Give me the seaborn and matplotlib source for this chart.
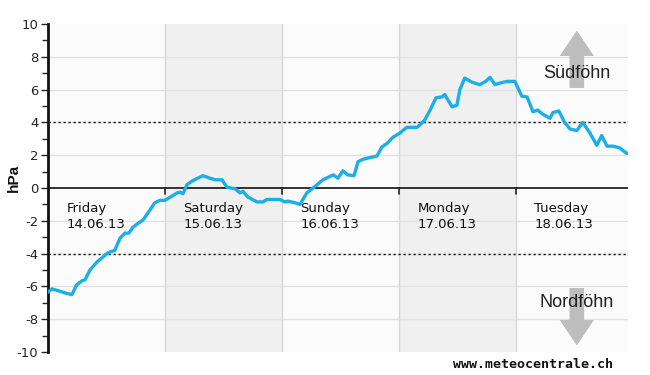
import matplotlib
matplotlib.use("Agg")
import matplotlib.pyplot as plt
import seaborn as sns
import pandas as pd
import numpy as np
from matplotlib.patches import FancyArrow

hours = [0, 0.8, 2.5, 3.5, 4.9, 5.9, 7.0, 7.6, 8.6, 10.1, 11.3, 12.3, 13.7, 14.8, 15.8, 16.6,
         17.4, 18.5, 19.5, 20.9, 21.9, 23.0, 24.0, 25.4, 26.5, 27.1, 27.7, 28.5, 29.7, 31.8,
         33.2, 34.3, 35.7, 36.7, 38.4, 39.4, 40.0, 41.0, 42.9, 44.1, 44.9, 47.6, 48.6, 49.2,
         50.7, 51.7, 53.1, 54.4, 56.4, 58.5, 59.5, 60.5, 61.5, 62.8, 63.6, 64.6, 66.0, 67.5,
         68.5, 69.7, 70.8, 72.2, 73.6, 75.7, 76.3, 77.3, 78.4, 79.6, 80.8, 81.4, 82.9, 83.9,
         84.5, 85.5, 87.0, 88.6, 89.8, 90.7, 91.7, 92.7, 94.2, 95.8, 97.2, 98.3, 99.5, 100.5,
         101.5, 103.0, 103.6, 104.8, 106.0, 107.1, 108.5, 109.7, 111.2, 112.6, 113.6, 114.7,
         115.9, 117.3, 117.9, 118.8]
hpa = [-6.35, -6.15, -6.3, -6.4, -6.5, -5.9, -5.65, -5.6, -5.0, -4.5, -4.2, -3.95, -3.8, -3.05,
       -2.75, -2.75, -2.4, -2.15, -1.95, -1.35, -0.9, -0.75, -0.75, -0.5, -0.3, -0.25, -0.35,
       0.2, 0.45, 0.75, 0.6, 0.5, 0.5, 0.05, -0.05, -0.3, -0.2, -0.55, -0.85, -0.85, -0.7,
       -0.7, -0.85, -0.8, -0.9, -1.0, -0.3, 0.0, 0.5, 0.8, 0.6, 1.05, 0.8, 0.75, 1.6, 1.75,
       1.85, 1.95, 2.5, 2.75, 3.1, 3.35, 3.7, 3.7, 3.85, 4.15, 4.75, 5.5, 5.55, 5.7, 4.95,
       5.05, 6.0, 6.7, 6.45, 6.3, 6.5, 6.75, 6.3, 6.4, 6.5, 6.5, 5.6, 5.55, 4.65, 4.75, 4.5,
       4.25, 4.6, 4.7, 4.0, 3.6, 3.5, 4.0, 3.35, 2.6, 3.2, 2.55, 2.55, 2.45, 2.3, 2.1]
day_names = ["Friday", "Saturday", "Sunday", "Monday", "Tuesday"]
day_dates = ["14.06.13", "15.06.13", "16.06.13", "17.06.13", "18.06.13"]
y_ticks = [-10, -8, -6, -4, -2, 0, 2, 4, 6, 8, 10]

df = pd.DataFrame({"h": hours, "v": hpa})

sns.set_style("white")
plt.rcParams["font.family"] = ["DejaVu Sans"]
plt.rcParams["axes.unicode_minus"] = False

fig = plt.figure(figsize=(6.5, 3.75), dpi=100)
ax = fig.add_axes([48/650, 23/375, 580/650, 328/375])
ax.set_facecolor("#fbfbfb")

xmax = 119.0
ax.set_xlim(0, xmax)
ax.set_ylim(-10, 10)

# shaded days
for i in (1, 3):
    ax.axvspan(i*24, (i+1)*24, color="#f0f0f0", zorder=0, lw=0)
# grid
for yv in y_ticks:
    if yv not in (0, -10, 10):
        ax.axhline(yv, color="#e2e2e2", lw=1.0, zorder=1)
for i in range(1, 5):
    ax.axvline(i*24, color="#d8d8d8", lw=1.0, zorder=1)
ax.axhline(0, color="#222222", lw=1.3, zorder=2)
for yv in (4, -4):
    ax.axhline(yv, color="#111111", lw=1.0, ls=(0, (1.6, 2.0)), zorder=2)
# small ticks on zero line
for i in range(1, 5):
    ax.plot([i*24, i*24], [0, -0.35], color="#222222", lw=1.2, zorder=2)

sns.lineplot(data=df, x="h", y="v", ax=ax, color="#1aaeea", lw=2.4, zorder=5)

for i, (n, d) in enumerate(zip(day_names, day_dates)):
    ax.text(i*24 + 3.8, -1.25, n, fontsize=9.5, va="center", ha="left", color="#111111")
    ax.text(i*24 + 3.8, -2.2, d, fontsize=9.5, va="center", ha="left", color="#111111")

# arrows
ax.add_patch(FancyArrow(108.5, 6.1, 0, 3.5, width=3.0, head_width=7.0, head_length=1.55,
                        length_includes_head=True, color="#bdbdbd", lw=0, zorder=3))
ax.add_patch(FancyArrow(108.5, -6.1, 0, -3.5, width=3.0, head_width=7.0, head_length=1.55,
                        length_includes_head=True, color="#bdbdbd", lw=0, zorder=3))
ax.text(108.5, 7.0, "Südföhn", fontsize=13, ha="center", va="center", color="#222222",
        family="Liberation Sans", zorder=4)
ax.text(108.5, -7.0, "Nordföhn", fontsize=13, ha="center", va="center", color="#222222",
        family="Liberation Sans", zorder=4)

ax.set_yticks(y_ticks)
ax.set_yticklabels([str(t) for t in y_ticks])
ax.set_yticks(np.arange(-9, 10, 2), minor=True)
ax.set_xticks([])
ax.tick_params(axis="y", which="major", length=5, width=1, direction="out", labelsize=9.5, pad=2, left=True)
ax.tick_params(axis="y", which="minor", length=4, width=1, direction="out", left=True)
for s in ("top", "right", "bottom"):
    ax.spines[s].set_visible(False)
ax.spines["left"].set_linewidth(2)
ax.spines["left"].set_color("#111111")
ax.set_xlabel("")
ax.set_ylabel("")

fig.text(14/650, 1 - 178/375, "hPa", fontsize=11, fontweight="bold", rotation=90,
         ha="center", va="center", family="Liberation Sans", color="#111111")

fig.text(533/650, 1 - 364/375, "www.meteocentrale.ch", fontsize=9.5, fontweight="bold",
         family="DejaVu Sans Mono", ha="center", va="center", color="#111111")

fig.savefig("out.png", dpi=100, facecolor="white")
